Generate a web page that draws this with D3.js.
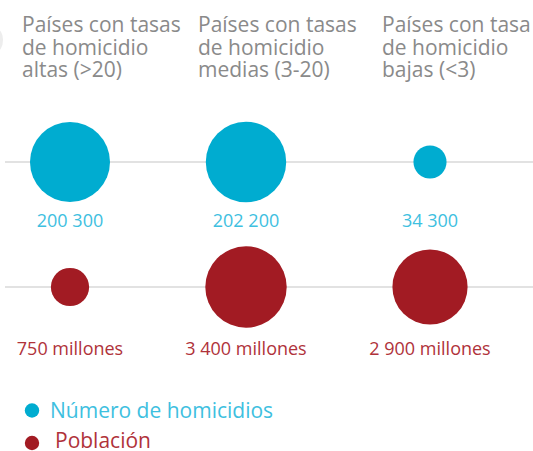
<!DOCTYPE html>
<html>
<head>
<meta charset="utf-8">
<script src="https://cdn.jsdelivr.net/npm/d3@7"></script>
<style>
  html, body { margin: 0; padding: 0; background: #fff; }
  svg { display: block; }
  text { font-family: "Open Sans", sans-serif; }
</style>
</head>
<body>
<svg id="chart" width="533" height="451"></svg>
<script>
const categories = ["altas", "medias", "bajas"];
const headers = [
  ["Países con tasas", "de homicidio", "altas (>20)"],
  ["Países con tasas", "de homicidio", "medias (3-20)"],
  ["Países con tasa", "de homicidio", "bajas (<3)"]
];
const homicidios = [200300, 202200, 34300];
const homicidiosLabels = ["200 300", "202 200", "34 300"];
const poblacion = [750, 3400, 2900]; // millones
const poblacionLabels = ["750 millones", "3 400 millones", "2 900 millones"];
const legendLabels = ["Número de homicidios", "Población"];

const cyan = "#00acd0", cyanText = "#3ec0df";
const red = "#a21b23", redText = "#b0323a";

const svg = d3.select("#chart");
const W = 533;

// background big number (cropped at the left edge)
svg.append("text").attr("x", -34).attr("y", 56)
  .attr("font-size", 72).attr("fill", "#ededed").text("5");

const x = d3.scaleOrdinal().domain(categories).range([70, 246, 430]);

// headers
const hg = svg.append("g");
categories.forEach((c, i) => {
  const t = hg.append("text").attr("fill", "#8a8a8a").attr("font-size", 21);
  headers[i].forEach((line, j) => {
    t.append("tspan").attr("x", x(c) - 48).attr("y", 32 + j * 22.5).text(line);
  });
});

const rows = [
  { y: 162, values: homicidios, labels: homicidiosLabels, color: cyan, tcolor: cyanText, maxR: 40.2, labelY: 227 },
  { y: 287, values: poblacion, labels: poblacionLabels, color: red, tcolor: redText, maxR: 40.7, labelY: 355 }
];

rows.forEach(row => {
  const r = d3.scaleSqrt().domain([0, d3.max(row.values)]).range([0, row.maxR]);
  svg.append("line").attr("x1", 5).attr("x2", W).attr("y1", row.y).attr("y2", row.y)
    .attr("stroke", "#e2e2e2").attr("stroke-width", 2);
  svg.append("g").selectAll("circle").data(categories).join("circle")
    .attr("cx", d => x(d)).attr("cy", row.y)
    .attr("r", (d, i) => r(row.values[i]))
    .attr("fill", row.color);
  svg.append("g").selectAll("text").data(categories).join("text")
    .attr("x", d => x(d)).attr("y", row.labelY)
    .attr("text-anchor", "middle").attr("font-size", 18)
    .attr("fill", row.tcolor)
    .text((d, i) => row.labels[i]);
});

// legend
const legend = [
  { label: legendLabels[0], color: cyan, tcolor: cyanText, y: 410.5, tx: 50, ty: 418 },
  { label: legendLabels[1], color: red, tcolor: redText, y: 443, tx: 55, ty: 448 }
];
legend.forEach(l => {
  svg.append("circle").attr("cx", 32).attr("cy", l.y).attr("r", 7.2).attr("fill", l.color);
  svg.append("text").attr("x", l.tx).attr("y", l.ty).attr("font-size", 21)
    .attr("fill", l.tcolor).text(l.label);
});
</script>
</body>
</html>
